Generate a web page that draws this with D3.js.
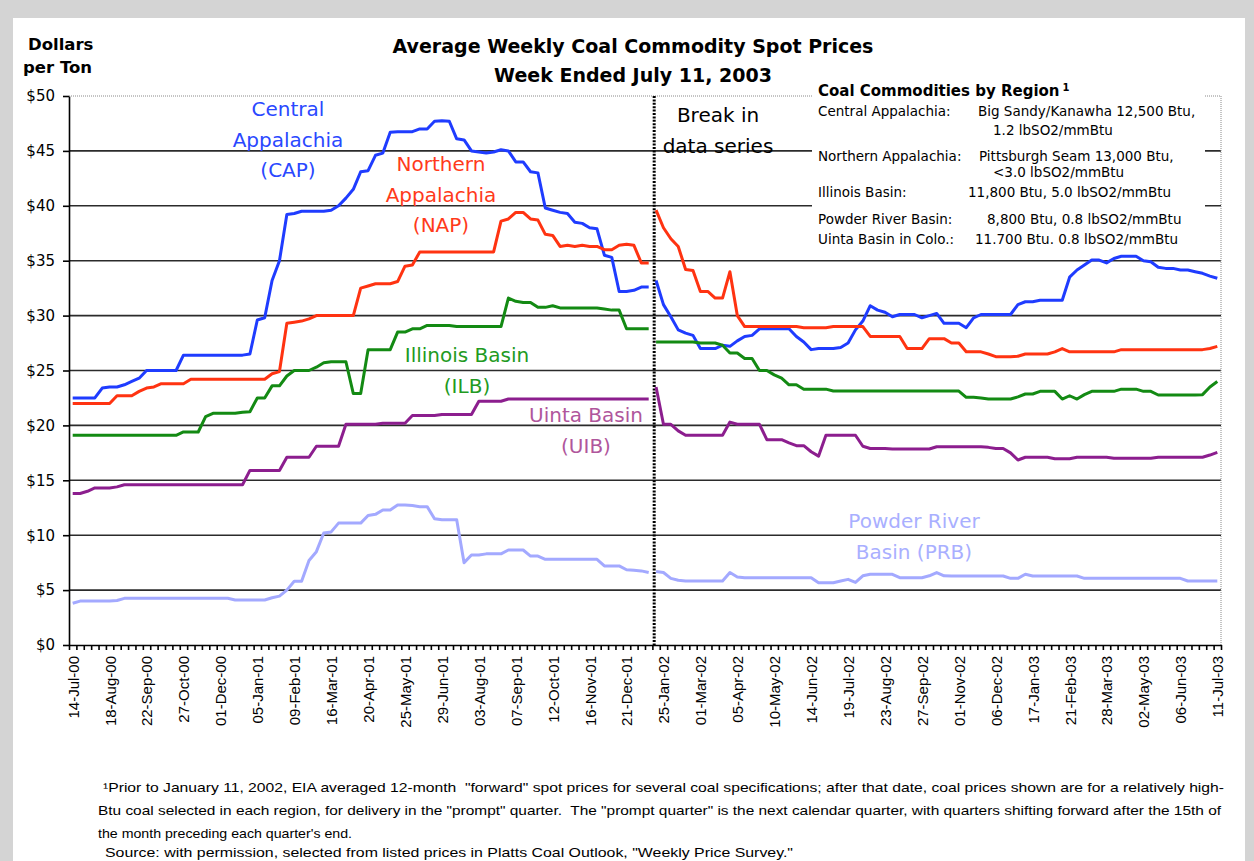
<!DOCTYPE html>
<html><head><meta charset="utf-8">
<script src="https://cdn.jsdelivr.net/npm/d3@7"></script>
<style>
html,body{margin:0;padding:0;background:#d4d4d4;}
svg{display:block;}
text{white-space:pre;}
</style></head><body>
<svg id="chart" width="1254" height="861"></svg>
<script>
// ---------- data ----------
const dateLabels = ["14-Jul-00","18-Aug-00","22-Sep-00","27-Oct-00","01-Dec-00","05-Jan-01","09-Feb-01","16-Mar-01","20-Apr-01","25-May-01","29-Jun-01","03-Aug-01","07-Sep-01","12-Oct-01","16-Nov-01","21-Dec-01","25-Jan-02","01-Mar-02","05-Apr-02","10-May-02","14-Jun-02","19-Jul-02","23-Aug-02","27-Sep-02","01-Nov-02","06-Dec-02","17-Jan-03","21-Feb-03","28-Mar-03","02-May-03","06-Jun-03","11-Jul-03"];
const labelEvery = 5;
const yTicks = [0,5,10,15,20,25,30,35,40,45,50];

// Central Appalachia (CAP)
const capBefore = [22.5,22.5,22.5,22.5,23.4, 23.5,23.5,23.7,24.0,24.3, 25.0,25.0,25.0,25.0,25.0, 26.4,26.4,26.4,26.4,26.4, 26.4,26.4,26.4,26.4,26.5, 29.6,29.8,33.2,35.0,39.2, 39.3,39.5,39.5,39.5,39.5, 39.6,40.0,40.7,41.5,43.1, 43.2,44.6,44.8,46.7,46.75, 46.75,46.75,47.0,47.0,47.7, 47.75,47.7,46.1,46.0,45.0, 44.9,44.8,44.9,45.1,45.0, 44.0,44.0,43.1,43.0,39.8, 39.6,39.4,39.3,38.5,38.4, 38.0,37.9,35.5,35.3,32.2, 32.2,32.3,32.6,32.6];
const capAfter = [33.2, 31.0,29.9,28.7,28.4,28.2, 27.0,27.0,27.0,27.3,27.2, 27.7,28.1,28.2,28.8,28.8, 28.8,28.8,28.8,28.1,27.6, 26.9,27.0,27.0,27.0,27.1, 27.5,28.7,29.5,30.9,30.5, 30.3,29.9,30.1,30.1,30.1, 29.8,30.0,30.2,29.3,29.3, 29.3,28.9,29.8,30.1,30.1, 30.1,30.1,30.1,31.0,31.26, 31.26,31.4,31.4,31.4,31.4, 33.5,34.15,34.6,35.06,35.06, 34.8,35.2,35.4,35.4,35.4, 35.0,34.9,34.4,34.3,34.3, 34.15,34.15,34.0,33.85,33.6, 33.4];
// Northern Appalachia (NAP)
const napBefore = [22.0,22.0,22.0,22.0,22.0, 22.0,22.7,22.7,22.7,23.1, 23.4,23.5,23.8,23.8,23.8, 23.8,24.2,24.2,24.2,24.2, 24.2,24.2,24.2,24.2,24.2, 24.2,24.2,24.7,24.9,29.3, 29.4,29.5,29.7,30.0,30.0, 30.0,30.0,30.0,30.0,32.5, 32.7,32.9,32.9,32.9,33.1, 34.5,34.6,35.8,35.8,35.8, 35.8,35.8,35.8,35.8,35.8, 35.8,35.8,35.8,38.6,38.8, 39.4,39.4,38.8,38.7,37.4, 37.3,36.3,36.4,36.3,36.4, 36.3,36.3,36.0,36.0,36.4, 36.5,36.4,34.8,34.8];
const napAfter = [39.6, 38.0,37.0,36.3,34.2,34.1, 32.2,32.2,31.6,31.6,34.0, 30.0,29.0,29.0,29.0,29.0, 29.0,29.0,29.0,29.0,28.9, 28.9,28.9,28.9,29.0,29.0, 29.0,29.0,29.0,28.1,28.1, 28.1,28.1,28.1,27.0,27.0, 27.0,27.9,27.9,27.9,27.5, 27.5,26.7,26.7,26.7,26.5, 26.26,26.26,26.26,26.3,26.5, 26.5,26.5,26.5,26.7,27.0, 26.7,26.7,26.7,26.7,26.7, 26.7,26.7,26.9,26.9,26.9, 26.9,26.9,26.9,26.9,26.9, 26.9,26.9,26.9,26.9,27.0, 27.2];
// Illinois Basin (ILB)
const ilbBefore = [19.1,19.1,19.1,19.1,19.1, 19.1,19.1,19.1,19.1,19.1, 19.1,19.1,19.1,19.1,19.1, 19.4,19.4,19.4,20.8,21.1, 21.1,21.1,21.1,21.2,21.25, 22.5,22.5,23.6,23.6,24.5, 25.0,25.0,25.0,25.3,25.7, 25.8,25.8,25.8,22.9,22.9, 26.9,26.9,26.9,26.9,28.5, 28.5,28.8,28.8,29.1,29.1, 29.1,29.1,29.0,29.0,29.0, 29.0,29.0,29.0,29.0,31.6, 31.3,31.2,31.2,30.75,30.75, 30.9,30.7,30.7,30.7,30.7, 30.7,30.7,30.6,30.5,30.5, 28.8,28.8,28.8,28.8];
const ilbAfter = [27.6, 27.6,27.6,27.6,27.6,27.6, 27.5,27.5,27.5,27.3,26.6, 26.6,26.1,26.1,25.0,25.0, 24.6,24.3,23.7,23.7,23.3, 23.3,23.3,23.3,23.13,23.13, 23.13,23.13,23.13,23.13,23.13, 23.13,23.13,23.13,23.13,23.13, 23.13,23.13,23.13,23.13,23.13, 23.13,22.56,22.56,22.5,22.4, 22.4,22.4,22.4,22.6,22.86, 22.86,23.1,23.1,23.1,22.4, 22.7,22.4,22.8,23.1,23.1, 23.1,23.1,23.3,23.3,23.3, 23.1,23.1,22.77,22.77,22.77, 22.77,22.77,22.77,22.8,23.5, 24.0];
// Uinta Basin (UIB)
const uibBefore = [13.8,13.8,14.0,14.3,14.3, 14.3,14.4,14.6,14.6,14.6, 14.6,14.6,14.6,14.6,14.6, 14.6,14.6,14.6,14.6,14.6, 14.6,14.6,14.6,14.6,15.9, 15.9,15.9,15.9,15.9,17.1, 17.1,17.1,17.1,18.1,18.1, 18.1,18.1,20.1,20.1,20.1, 20.1,20.1,20.2,20.2,20.2, 20.2,20.9,20.9,20.9,20.9, 21.0,21.0,21.0,21.0,21.0, 22.2,22.2,22.2,22.2,22.4, 22.4,22.4,22.4,22.4,22.4, 22.4,22.4,22.4,22.4,22.4, 22.4,22.4,22.4,22.4,22.4, 22.4,22.4,22.4,22.4];
const uibAfter = [23.5, 20.1,20.1,19.5,19.1,19.1, 19.1,19.1,19.1,19.1,20.3, 20.1,20.1,20.1,20.1,18.7, 18.7,18.7,18.4,18.15,18.15, 17.6,17.2,19.1,19.1,19.1, 19.1,19.1,18.1,17.9,17.9, 17.9,17.85,17.85,17.85,17.85, 17.85,17.85,18.06,18.06,18.06, 18.06,18.06,18.06,18.06,18.0, 17.9,17.9,17.5,16.85,17.1, 17.1,17.1,17.1,16.97,16.97, 16.97,17.1,17.1,17.1,17.1, 17.1,17.0,17.0,17.0,17.0, 17.0,17.0,17.1,17.1,17.1, 17.1,17.1,17.1,17.1,17.3, 17.55];
// Powder River Basin (PRB)
const prbBefore = [3.8,4.0,4.0,4.0,4.0, 4.0,4.05,4.25,4.25,4.25, 4.25,4.25,4.25,4.25,4.25, 4.25,4.25,4.25,4.25,4.25, 4.25,4.25,4.1,4.1,4.1, 4.1,4.1,4.3,4.45,5.0, 5.8,5.8,7.7,8.5,10.2, 10.3,11.1,11.1,11.1,11.1, 11.8,11.9,12.3,12.3,12.75, 12.75,12.7,12.6,12.6,11.5, 11.4,11.4,11.4,7.5,8.2, 8.2,8.3,8.3,8.3,8.65, 8.65,8.65,8.1,8.1,7.8, 7.8,7.8,7.8,7.8,7.8, 7.8,7.8,7.2,7.2,7.2, 6.85,6.8,6.75,6.6];
const prbAfter = [6.7, 6.6,6.07,5.9,5.83,5.83, 5.83,5.83,5.83,5.83,6.6, 6.2,6.13,6.13,6.13,6.13, 6.13,6.13,6.13,6.13,6.13, 6.13,5.67,5.67,5.67,5.83, 5.98,5.7,6.3,6.44,6.44, 6.44,6.44,6.13,6.13,6.13, 6.13,6.3,6.6,6.3,6.28, 6.28,6.28,6.28,6.28,6.28, 6.28,6.28,6.07,6.07,6.44, 6.28,6.28,6.28,6.28,6.28, 6.28,6.28,6.07,6.07,6.07, 6.07,6.07,6.07,6.07,6.07, 6.07,6.07,6.07,6.07,6.07, 6.07,5.83,5.83,5.83,5.83, 5.83];

const seriesList = [
  {name:"CAP", before:capBefore, after:capAfter, color:"#1f3cff"},
  {name:"NAP", before:napBefore, after:napAfter, color:"#ff3311"},
  {name:"ILB", before:ilbBefore, after:ilbAfter, color:"#138a13"},
  {name:"PRB", before:prbBefore, after:prbAfter, color:"#a3a9ff"},
  {name:"UIB", before:uibBefore, after:uibAfter, color:"#8c1e8e"}
];

const seriesLabels = [
  {lines:["Central","Appalachia","(CAP)"], cx:288, y0:116, color:"#2a48ff"},
  {lines:["Northern","Appalachia","(NAP)"], cx:441, y0:171, color:"#ff3a1a"},
  {lines:["Illinois Basin","(ILB)"], cx:467, y0:362, color:"#229a22"},
  {lines:["Uinta Basin","(UIB)"], cx:586, y0:422, color:"#b0569c"},
  {lines:["Powder River","Basin (PRB)"], cx:914, y0:528, color:"#a9afff"},
  {lines:["Break in","data series"], cx:718, y0:122, color:"#000"}
];

const legendTitle = "Coal Commodities by Region";
const legendRows = [
  {label:"Central Appalachia:", value:"Big Sandy/Kanawha 12,500 Btu,", vx:978, y:116},
  {label:"", value:"1.2 lbSO2/mmBtu", vx:993, y:135},
  {label:"Northern Appalachia:", value:"Pittsburgh Seam 13,000 Btu,", vx:979, y:161},
  {label:"", value:"<3.0 lbSO2/mmBtu", vx:993, y:177},
  {label:"Illinois Basin:", value:"11,800 Btu, 5.0 lbSO2/mmBtu", vx:968, y:197},
  {label:"Powder River Basin:", value:"8,800 Btu, 0.8 lbSO2/mmBtu", vx:987, y:224},
  {label:"Uinta Basin in Colo.:", value:"11.700 Btu. 0.8 lbSO2/mmBtu", vx:975, y:244}
];

const footnotes = [
  {text:"\u00B9Prior to January 11, 2002, EIA averaged 12-month  \"forward\" spot prices for several coal specifications; after that date, coal prices shown are for a relatively high-", x:103, y:792, w:1121},
  {text:"Btu coal selected in each region, for delivery in the \"prompt\" quarter.  The \"prompt quarter\" is the next calendar quarter, with quarters shifting forward after the 15th of", x:98, y:815, w:1123},
  {text:"the month preceding each quarter's end.", x:98, y:838, w:254},
  {text:"Source: with permission, selected from listed prices in Platts Coal Outlook, \"Weekly Price Survey.\"", x:105, y:857, w:688}
];

// ---------- layout ----------
const svg = d3.select("#chart");
const L = 69, R = 1221, T = 96, B = 645;
const nCat = capBefore.length + capAfter.length;
const breakIdx = capBefore.length;
const x = d3.scaleLinear().domain([0, nCat]).range([L, R]);
const y = d3.scaleLinear().domain([0, 50]).range([B, T]);
const cx = i => x(i + 0.5);

svg.append("rect").attr("x",13).attr("y",18).attr("width",1232).attr("height",860).attr("fill","#fff");

// gridlines
svg.append("g").selectAll("line").data(yTicks.filter(v => v > 0 && v < 50)).join("line")
  .attr("x1", L).attr("x2", R).attr("y1", d => y(d)).attr("y2", d => y(d))
  .attr("stroke", "#2b2b2b").attr("stroke-width", 1.6);
// top & right border (dotted gray)
svg.append("line").attr("x1",L).attr("x2",R).attr("y1",y(50)).attr("y2",y(50))
  .attr("stroke","#8a8a8a").attr("stroke-width",1).attr("stroke-dasharray","1,1");
svg.append("line").attr("x1",R).attr("x2",R).attr("y1",T).attr("y2",B)
  .attr("stroke","#8a8a8a").attr("stroke-width",1).attr("stroke-dasharray","1,1");

// legend box (covers gridlines)
svg.append("rect").attr("x",812).attr("y",80).attr("width",393).attr("height",173).attr("fill","#fff");

// break line
svg.append("line").attr("x1", x(breakIdx) + 1.8).attr("x2", x(breakIdx) + 1.8)
  .attr("y1", T).attr("y2", B)
  .attr("stroke","#000").attr("stroke-width",3).attr("stroke-dasharray","2,1.4");

// axes
const xTicksAxis = d3.axisBottom(x).tickValues(d3.range(0, nCat + 1)).tickSize(5).tickSizeOuter(0).tickFormat("");
svg.append("g").attr("transform", `translate(0,${B})`).call(xTicksAxis)
  .call(g => g.selectAll("line,path").attr("stroke","#000").attr("stroke-width",1.6));

const labelIdx = dateLabels.map((d, k) => k * labelEvery + 0.5);
const xLabelAxis = d3.axisBottom(x).tickValues(labelIdx).tickSize(0)
  .tickFormat((d, k) => dateLabels[k]);
const gxl = svg.append("g").attr("transform", `translate(0,${B})`).call(xLabelAxis);
gxl.select(".domain").remove();
gxl.selectAll("text")
  .attr("font-family", "Liberation Sans, Arial, sans-serif").attr("font-size", 15).attr("fill","#000")
  .attr("text-anchor","end").attr("transform","rotate(-90)")
  .attr("x", -11).attr("y", 0).attr("dy", "0.36em");

const yAxis = d3.axisLeft(y).tickValues(yTicks).tickSize(6).tickSizeOuter(0).tickFormat(d => "$" + d);
const gy = svg.append("g").attr("transform", `translate(${L},0)`).call(yAxis);
gy.selectAll("line,path").attr("stroke","#000").attr("stroke-width",1.6);
gy.selectAll("text").attr("font-family","DejaVu Sans, sans-serif").attr("font-size",15).attr("fill","#000").attr("x",-14);

// series
const lineGen = offset => d3.line().x((d, i) => cx(offset + i)).y(d => y(d));
const sg = svg.append("g");
seriesList.forEach(s => {
  sg.append("path").attr("d", lineGen(0)(s.before)).attr("fill","none")
    .attr("stroke", s.color).attr("stroke-width", 3).attr("stroke-linejoin","round");
  sg.append("path").attr("d", lineGen(breakIdx)(s.after)).attr("fill","none")
    .attr("stroke", s.color).attr("stroke-width", 3).attr("stroke-linejoin","round");
});

// series labels
seriesLabels.forEach(sl => {
  sl.lines.forEach((t, k) => {
    svg.append("text").attr("x", sl.cx).attr("y", sl.y0 + k * 30.5)
      .attr("text-anchor","middle").attr("font-family","DejaVu Sans, sans-serif")
      .attr("font-size", 20).attr("fill", sl.color).text(t);
  });
});

// legend text
const lt = svg.append("text").attr("x", 818).attr("y", 96)
  .attr("font-family","DejaVu Sans, sans-serif").attr("font-weight","bold").attr("font-size",15).attr("fill","#000");
lt.append("tspan").text(legendTitle);
lt.append("tspan").attr("dx", 3).attr("dy", -5).attr("font-size", 10).text("1");
legendRows.forEach(r => {
  if (r.label) svg.append("text").attr("x", 818).attr("y", r.y)
    .attr("font-family","DejaVu Sans, sans-serif").attr("font-size",13.5).attr("fill","#000").text(r.label);
  svg.append("text").attr("x", r.vx).attr("y", r.y)
    .attr("font-family","DejaVu Sans, sans-serif").attr("font-size",13.5).attr("fill","#000").text(r.value);
});

// titles
svg.append("text").attr("x", 633).attr("y", 53).attr("text-anchor","middle")
  .attr("font-family","DejaVu Sans, sans-serif").attr("font-weight","bold").attr("font-size",19).text("Average Weekly Coal Commodity Spot Prices");
svg.append("text").attr("x", 633).attr("y", 82).attr("text-anchor","middle")
  .attr("font-family","DejaVu Sans, sans-serif").attr("font-weight","bold").attr("font-size",19).text("Week Ended July 11, 2003");
svg.append("text").attr("x", 28).attr("y", 50)
  .attr("font-family","DejaVu Sans, sans-serif").attr("font-weight","bold").attr("font-size",16.5).text("Dollars");
svg.append("text").attr("x", 23).attr("y", 73)
  .attr("font-family","DejaVu Sans, sans-serif").attr("font-weight","bold").attr("font-size",16.5).text("per Ton");

// footnotes
footnotes.forEach(f => {
  svg.append("text").attr("x", f.x).attr("y", f.y)
    .attr("font-family","Liberation Sans, Arial, sans-serif").attr("font-size",13)
    .attr("fill","#000")
    .attr("textLength", f.w).attr("lengthAdjust","spacingAndGlyphs").text(f.text);
});
</script>
</body></html>
